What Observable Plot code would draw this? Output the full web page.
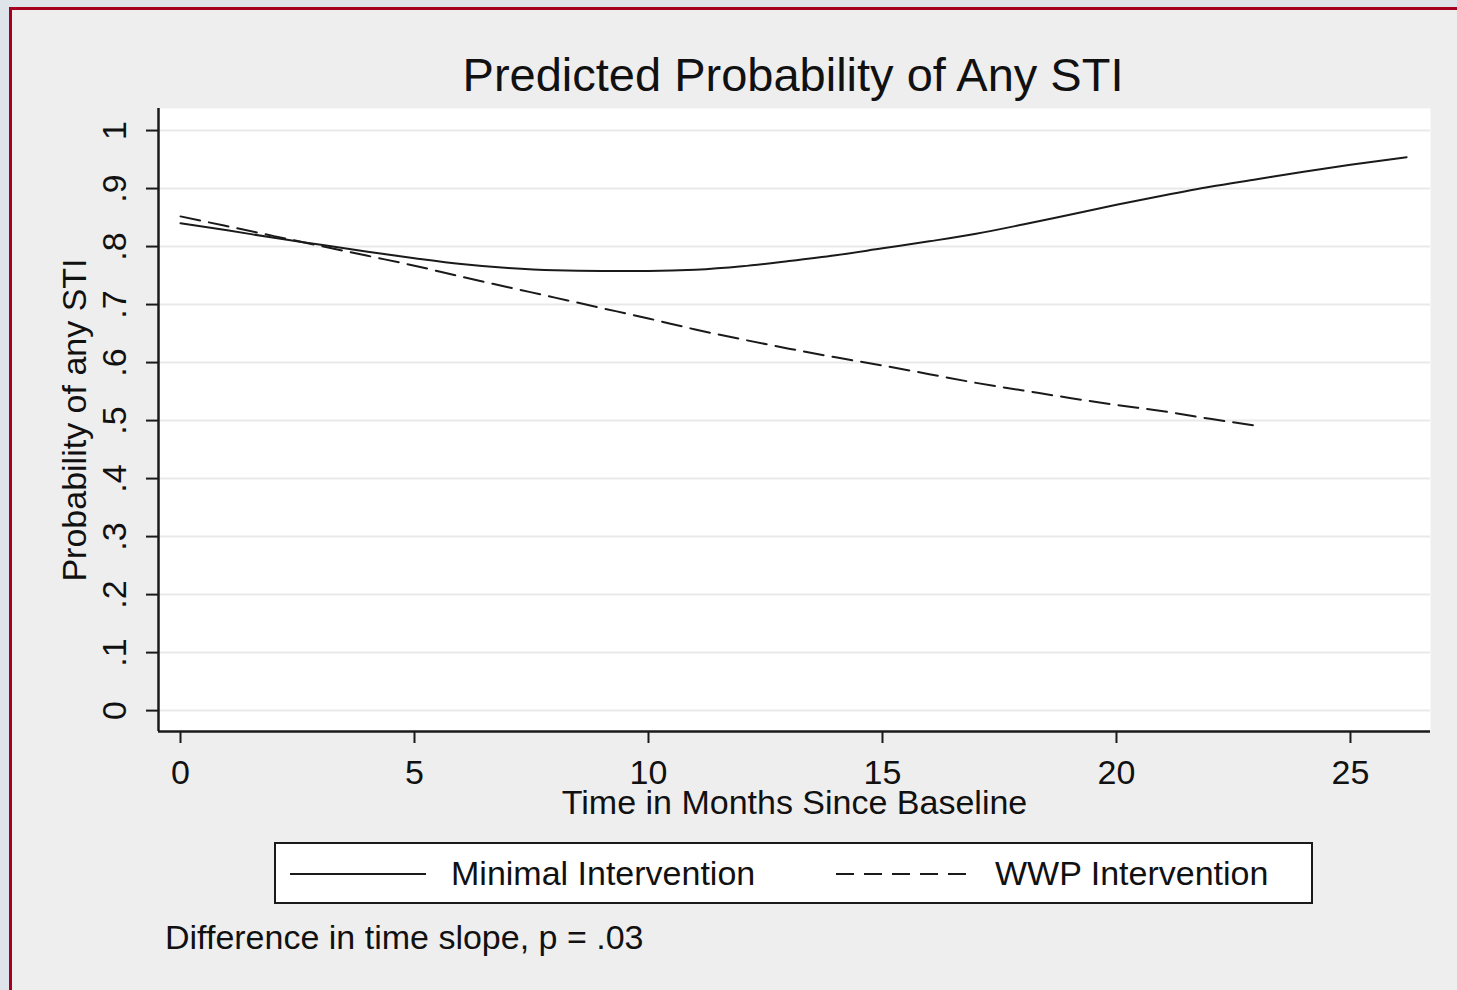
<!DOCTYPE html>
<html>
<head>
<meta charset="utf-8">
<script src="https://cdn.jsdelivr.net/npm/d3@7"></script>
<script src="https://cdn.jsdelivr.net/npm/@observablehq/plot@0.6"></script>
<style>
  html, body { margin: 0; padding: 0; }
  body { width: 1457px; height: 990px; background: #dfe4ea; position: relative; overflow: hidden; font-family: "Liberation Sans", Arial, sans-serif; color: #111; }
  #frame { position: absolute; left: 9px; top: 7px; right: 0; bottom: 0; border-left: 3px solid #a5001f; border-top: 3px solid #a5001f; background: #eeeeee; }
  #chart { position: absolute; left: 0; top: 0; }
  #title { position: absolute; left: 0; width: 1586px; top: 51px; text-align: center; font-size: 47px; line-height: 47px; white-space: nowrap; }
  #legend { position: absolute; left: 274px; top: 842px; width: 1035px; height: 58px; border: 2px solid #1a1a1a; background: #fff; }
  #legend svg { position: absolute; left: 0; top: 0; }
  #legend .lab { position: absolute; top: 12px; font-size: 34px; line-height: 34px; white-space: nowrap; }
  #caption { position: absolute; left: 165px; top: 920px; font-size: 34px; line-height: 34px; white-space: nowrap; }
</style>
</head>
<body>
<div id="frame"></div>
<div id="chart"></div>
<div id="title"></div>
<div id="legend"></div>
<div id="caption"></div>
<script>
// ---- data ----
const titleText = "Predicted Probability of Any STI";
const xLabel = "Time in Months Since Baseline";
const yLabel = "Probability of any STI";
const captionText = "Difference in time slope, p = .03";
const seriesNames = ["Minimal Intervention", "WWP Intervention"];

const minimalMonths = [0, 1, 2, 3, 4, 5, 6, 7, 8, 9, 10, 11, 12, 13, 14, 15, 16, 17, 18, 19, 20, 21, 22, 23, 24, 25, 26.2];
const minimalProb   = [0.840, 0.828, 0.815, 0.803, 0.791, 0.780, 0.770, 0.763, 0.759, 0.758, 0.758, 0.760, 0.766, 0.775, 0.785, 0.797, 0.809, 0.822, 0.838, 0.855, 0.872, 0.888, 0.903, 0.916, 0.929, 0.941, 0.954];

const wwpMonths = [0, 1, 2, 3, 4, 5, 6, 7, 8, 9, 10, 11, 12, 13, 14, 15, 16, 17, 18, 19, 20, 21, 22, 23];
const wwpProb   = [0.852, 0.835, 0.818, 0.801, 0.784, 0.767, 0.748, 0.730, 0.712, 0.694, 0.676, 0.657, 0.640, 0.624, 0.609, 0.595, 0.580, 0.565, 0.552, 0.539, 0.527, 0.516, 0.503, 0.491];

const xTicks = [0, 5, 10, 15, 20, 25];
const yTicks = [0, 0.1, 0.2, 0.3, 0.4, 0.5, 0.6, 0.7, 0.8, 0.9, 1];
const yTickLabels = ["0", ".1", ".2", ".3", ".4", ".5", ".6", ".7", ".8", ".9", "1"];

// ---- build ----
const minimal = minimalMonths.map((m, i) => ({month: m, p: minimalProb[i]}));
const wwp = wwpMonths.map((m, i) => ({month: m, p: wwpProb[i]}));
const xDomain = [-0.47, 26.71];
const yDomain = [-0.036, 1.038];
const ink = "#1a1a1a";

const plot = Plot.plot({
  width: 1457,
  height: 830,
  marginTop: 108,
  marginLeft: 158,
  marginRight: 27,
  marginBottom: 99,
  style: {fontFamily: "'Liberation Sans', Arial, sans-serif", fontSize: "34px", color: "#111", background: "transparent", overflow: "visible"},
  x: {domain: xDomain, label: null},
  y: {domain: yDomain, label: null},
  marks: [
    Plot.frame({fill: "white", stroke: "none"}),
    Plot.gridY(yTicks, {stroke: "#e9e9e9", strokeOpacity: 1, strokeWidth: 2}),
    Plot.axisY({ticks: yTicks, tickSize: 12, tickFormat: () => "", stroke: ink, strokeWidth: 2, label: null}),
    Plot.axisX({ticks: xTicks, tickSize: 12, tickFormat: () => "", stroke: ink, strokeWidth: 2, label: null}),
    Plot.ruleX([xDomain[0]], {stroke: ink, strokeWidth: 2.5}),
    Plot.ruleY([yDomain[0]], {stroke: ink, strokeWidth: 2.5}),
    Plot.text(yTicks, {y: d => d, frameAnchor: "left", dx: -43, rotate: -90, text: (d, i) => yTickLabels[i], textAnchor: "middle", lineAnchor: "middle", fontSize: 34, fill: "#111"}),
    Plot.text(xTicks, {x: d => d, frameAnchor: "bottom", dy: 42, text: d => String(d), textAnchor: "middle", lineAnchor: "middle", fontSize: 34, fill: "#111"}),
    Plot.text([xLabel], {frameAnchor: "bottom", dy: 72, text: d => d, textAnchor: "middle", lineAnchor: "middle", fontSize: 34, fill: "#111"}),
    Plot.text([yLabel], {frameAnchor: "left", dx: -83, rotate: -90, text: d => d, textAnchor: "middle", lineAnchor: "middle", fontSize: 34, fill: "#111"}),
    Plot.line(wwp, {x: "month", y: "p", stroke: ink, strokeWidth: 2, strokeDasharray: "20,9", curve: "monotone-x"}),
    Plot.line(minimal, {x: "month", y: "p", stroke: ink, strokeWidth: 2, curve: "monotone-x"})
  ]
});
document.getElementById("chart").appendChild(plot);

document.getElementById("title").textContent = titleText;
document.getElementById("caption").textContent = captionText;

// legend
const legend = document.getElementById("legend");
const ns = "http://www.w3.org/2000/svg";
const sw = document.createElementNS(ns, "svg");
sw.setAttribute("width", 1035); sw.setAttribute("height", 58);
const samples = [{x1: 14, x2: 150, dash: null}, {x1: 560, x2: 698, dash: "18,10"}];
samples.forEach(s => {
  const l = document.createElementNS(ns, "line");
  l.setAttribute("x1", s.x1); l.setAttribute("x2", s.x2);
  l.setAttribute("y1", 30); l.setAttribute("y2", 30);
  l.setAttribute("stroke", ink); l.setAttribute("stroke-width", 2);
  if (s.dash) l.setAttribute("stroke-dasharray", s.dash);
  sw.appendChild(l);
});
legend.appendChild(sw);
const labelLeft = [175, 719];
seriesNames.forEach((n, i) => {
  const d = document.createElement("div");
  d.className = "lab";
  d.style.left = labelLeft[i] + "px";
  d.textContent = n;
  legend.appendChild(d);
});
</script>
</body>
</html>
